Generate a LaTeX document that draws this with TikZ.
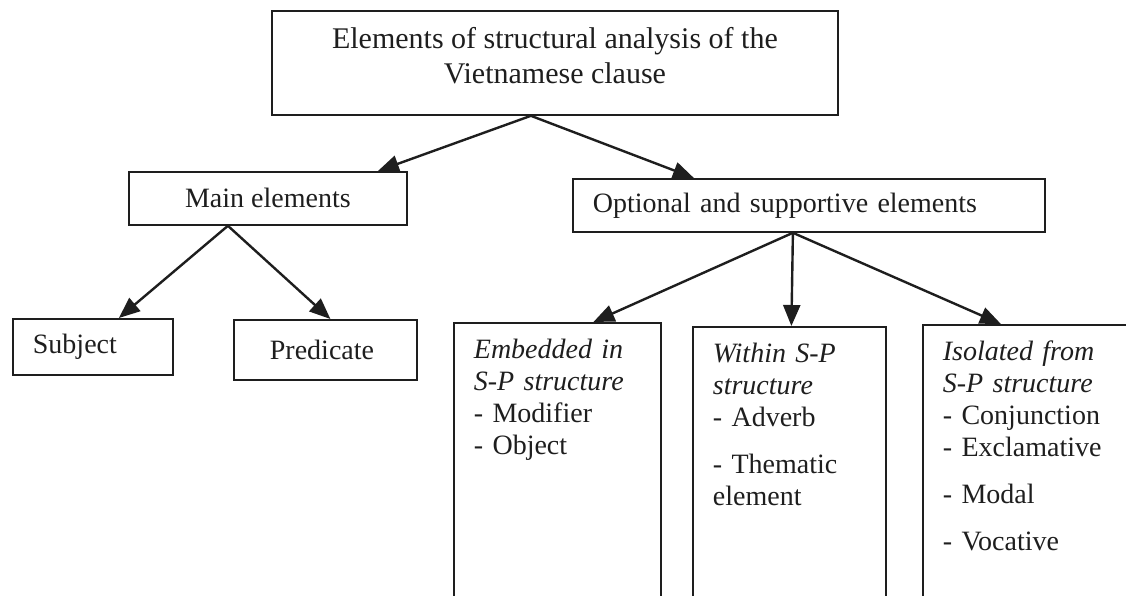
\documentclass[tikz,border=0pt]{standalone}
\usepackage{fontspec}
\setmainfont{Liberation Serif}
\usetikzlibrary{arrows.meta}
\definecolor{ink}{RGB}{30,30,30}

\begin{document}
\begin{tikzpicture}[
    x=1pt, y=-1pt,
    box/.style = {draw=ink, line width=1.8pt, text=ink, inner sep=0pt,
                  font=\fontsize{28}{32}\selectfont},
    leaf/.style = {box, anchor=north west, align=left, inner xsep=20pt,
                   inner ysep=17pt, text height=19pt, text depth=300pt},
    link/.style = {draw=ink, line width=2.4pt, -{Triangle[length=21pt,width=17pt]}},
    %every node/.append style = {font=\sffamily}
  ]
  %%+++++++++++++++++++++++++
  % Page
  \useasboundingbox (0,0) rectangle (1126,596);
  \clip (0,0) rectangle (1126,596);
  %%+++++++++++++++++++++++++
  % Top
  \node[box, anchor=north west, minimum width=566, minimum height=104,
        align=center, font=\fontsize{30}{35}\selectfont, text depth=14pt]
        (clause) at (271,10) {Elements of structural analysis of the\\ Vietnamese clause};
  % Second level
  \node[box, anchor=north west, minimum width=278, minimum height=53] (main) at (128,171) {Main elements};
  \node[box, anchor=north west, minimum height=53, text width=432, inner xsep=20pt,
        align=left] (optional) at (572,178) {Optional and supportive elements};
  % Main elements
  \node[box, anchor=north west, minimum height=56, text width=120, inner xsep=20pt,
        align=left] (subject) at (12,318) {Subject};
  \node[box, anchor=north west, minimum height=60, text width=111, inner xsep=36pt,
        align=left] (predicate) at (233,319) {Predicate};
  % Optional elements
  \node[leaf, text width=167] (embedded) at (453,322)
        {\textit{Embedded in}\\ \textit{S-P structure}\\ - Modifier\\ - Object};
  \node[leaf, text width=153] (within) at (692,326)
        {\textit{Within S-P}\\ \textit{structure}\\ - Adverb\\[15pt] - Thematic\\ element};
  \node[leaf, text width=200] (isolated) at (922,324)
        {\textit{Isolated from}\\ \textit{S-P structure}\\ - Conjunction\\ - Exclamative\\[15pt]
         - Modal\\[15pt] - Vocative};
  %%+++++++++++++++++++++++++
  % Arrows
  \draw[link] ([xshift=-24pt]clause.south) -- ([xshift=110pt]main.north);
  \draw[link] ([xshift=-24pt]clause.south) -- ([xshift=-115pt]optional.north);
  \draw[link] ([xshift=-40pt]main.south) -- ([xshift=26pt]subject.north);
  \draw[link] ([xshift=-40pt]main.south) -- ([xshift=5pt]predicate.north);
  \draw[link] ([xshift=-16pt]optional.south) -- ([xshift=36pt]embedded.north);
  \draw[link] ([xshift=-16pt]optional.south) -- ([xshift=2pt]within.north);
  \draw[link] ([xshift=-16pt]optional.south) -- ([xshift=-42pt]isolated.north);
\end{tikzpicture}
\end{document}
